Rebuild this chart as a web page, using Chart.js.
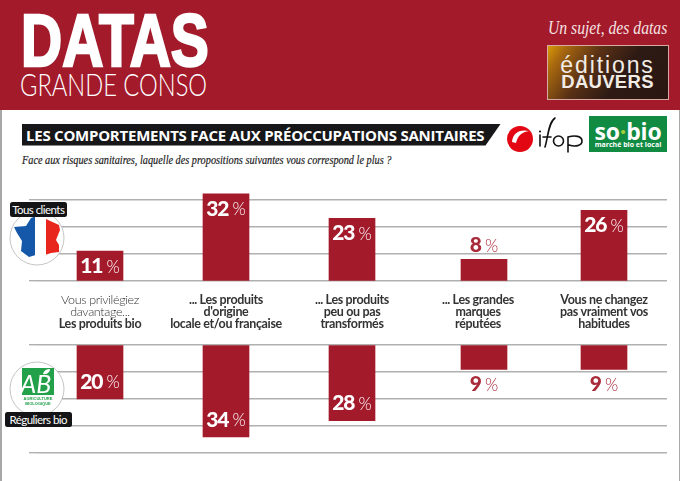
<!DOCTYPE html>
<html lang="fr">
<head>
<meta charset="utf-8">
<title>Datas grande conso</title>
<script src="https://cdn.jsdelivr.net/npm/chart.js@4"></script>
<style>
  html, body { margin: 0; padding: 0; background: #fff; }
  #page { position: relative; width: 680px; height: 481px; overflow: hidden; background: #fff; font-family: Lato, sans-serif; }
  #page > * { position: absolute; }
  canvas { display: block; }
  #edgeL { left: 0; top: 110px; width: 1.5px; height: 371px; background: #a8a8a8; }
  #edgeR { left: 679px; top: 110px; width: 1px; height: 371px; background: #a8a8a8; }
  #head { left: 0; top: 0; width: 680px; height: 110px; background: #a31a2b; }
  #datas { left: 20.5px; top: -2px; font: bold 75px/84px "Liberation Sans"; color: #fff; -webkit-text-stroke: 2.6px #fff; text-shadow: 1px 1px 1px #5d0d18; transform: scaleX(0.76); transform-origin: 0 0; white-space: nowrap; }
  #conso { left: 20px; top: 65px; font: 300 32px/38px Lato; color: #fff; white-space: nowrap; transform: scaleX(0.74); transform-origin: 0 0; }
  #slogan { left: 548px; top: 16px; font: italic 19px/24px "Liberation Serif"; color: #f6e3e3; white-space: nowrap; transform: scaleX(0.825); transform-origin: 0 0; }
  #dauvers { left: 546.5px; top: 45px; width: 120px; height: 53px; border: 1px solid #d9a9a4; background: linear-gradient(125deg, #d89a08 0%, #a8680f 12%, #5a3115 35%, #2e1a14 60%, #2a1712 100%); color: #f1ece6; text-align: center; }
  #dauvers .a { position: absolute; left: 0; width: 100%; top: 9px; font: 23px/20px "Liberation Sans"; letter-spacing: 1.9px; }
  #dauvers .b { position: absolute; left: 0; width: 100%; top: 26px; font: bold 18.5px/20px "Liberation Sans"; letter-spacing: 0.3px; }
  #band { left: 21.5px; top: 124px; width: 479px; height: 21.5px; background: #17171a; clip-path: polygon(0 0, 100% 0, 464px 100%, 0 100%); }
  #title { left: 26px; top: 124px; font: bold 15px/22px "Open Sans"; color: #fff; white-space: nowrap; letter-spacing: -0.24px; }
  #sub { left: 21.5px; top: 152px; font: italic 12.3px/16px "Liberation Serif"; color: #222; white-space: nowrap; -webkit-text-stroke: 0.2px #222; transform: scaleX(0.835); transform-origin: 0 0; }
  #sobio { left: 589px; top: 116px; width: 78px; height: 36px; background: #118a42; color: #fff; text-align: center; }
  #sobio .a { position: absolute; left: 0; width: 100%; top: 3px; font: bold 23px/24px "Open Sans"; letter-spacing: -0.2px; }
  #sobio .a span { color: #a7cf3a; }
  #sobio .b { position: absolute; left: 0; width: 100%; top: 24px; font: bold 7px/9px "Open Sans"; }
  .tag { background: #141416; color: #fff; border-radius: 2.5px; font: 11.5px/15px Lato; text-align: center; letter-spacing: -0.55px; z-index: 5; white-space: nowrap; }
  #tagAll { left: 10px; top: 201.5px; width: 56.5px; height: 15px; }
  #tagBio { left: 4.5px; top: 411.5px; width: 67.5px; height: 15.5px; }
  .icon { z-index: 4; }
  #chartTop { left: 29px; top: 183px; }
  #chartBio { left: 29px; top: 342px; }
</style>
</head>
<body>
<div id="page">
  <div id="edgeL"></div><div id="edgeR"></div>
  <div id="head"></div>
  <div id="datas">DATAS</div>
  <div id="conso">GRANDE CONSO</div>
  <div id="slogan">Un sujet, des datas</div>
  <div id="dauvers"><div class="a">éditions</div><div class="b">DAUVERS</div></div>
  <div id="band"></div>
  <div id="title">LES COMPORTEMENTS FACE AUX PRÉOCCUPATIONS SANITAIRES</div>
  <div id="sub">Face aux risques sanitaires, laquelle des propositions suivantes vous correspond le plus ?</div>

  <svg style="left:505px;top:114px" width="82" height="42" viewBox="0 0 82 42">
    <circle cx="15" cy="25" r="13" fill="#e30613"/>
    <path d="M7 28 C8 19 14 15 24 17 C17 18 13 21 11 29 Z" fill="#fff"/>
    <g fill="none" stroke="#111" stroke-width="1.6" stroke-linecap="round">
      <path d="M35 21 V32"/>
      <path d="M40 33 C43 24 43 9 50 4"/>
      <path d="M38 23 H46"/>
      <circle cx="53.5" cy="27" r="5"/>
      <path d="M63 38 V23 C70 21 77 22 77 27 C77 32 70 33 64 31"/>
    </g>
    <circle cx="35" cy="17.5" r="1.1" fill="#111"/>
  </svg>
  <div id="sobio"><div class="a">so<span>·</span>bio</div><div class="b">marché bio et local</div></div>

  <div id="chartTop"><canvas id="cvTop" width="638" height="162" style="width:638px;height:162px"></canvas></div>
  <div id="chartBio"><canvas id="cvBio" width="638" height="114" style="width:638px;height:114px"></canvas></div>

  <svg class="icon" style="left:9px;top:210px" width="56" height="56" viewBox="0 0 56 56">
    <defs>
      <clipPath id="fr"><path d="M22 8 L30 5 L37 9 L50 15 L51 20 L47 30 L50 35 L50 42 L42 43 L33 46 L30 44 L20 47 L12 41 L13 31 L8 23 L5 17 L17 16 Z"/></clipPath>
    </defs>
    <circle cx="28" cy="28" r="27" fill="#fff" stroke="#b5b5b5" stroke-width="0.8"/>
    <g clip-path="url(#fr)">
      <rect x="0" y="0" width="26" height="56" fill="#1557a8"/>
      <rect x="26" y="0" width="11" height="56" fill="#fff"/>
      <rect x="37" y="0" width="19" height="56" fill="#e8261e"/>
    </g>
  </svg>
  <div class="tag" id="tagAll">Tous clients</div>

  <svg class="icon" style="left:9px;top:361px" width="56" height="56" viewBox="0 0 56 56">
    <circle cx="28" cy="28" r="27" fill="#fff" stroke="#b5b5b5" stroke-width="0.8"/>
    <rect x="13" y="7" width="32" height="27" fill="#22a04a"/>
    <text x="27" y="32" text-anchor="middle" font-family="Lato" font-style="italic" font-size="25" fill="#fff">AB</text>
    <path d="M34 13 C35 9 38 8 41 8 C41 11 38 14 34 13 Z" fill="#fff"/>
    <text x="29" y="38.5" text-anchor="middle" font-family="Liberation Sans" font-weight="bold" font-size="4" fill="#22a04a">AGRICULTURE</text>
    <text x="29" y="43.5" text-anchor="middle" font-family="Liberation Sans" font-weight="bold" font-size="4" fill="#22a04a">BIOLOGIQUE</text>
  </svg>
  <div class="tag" id="tagBio">Réguliers bio</div>
</div>

<script>
const categories = [
  ["Vous privilégiez", "davantage...", "Les produits bio"],
  ["... Les produits", "d'origine", "locale et/ou française"],
  ["... Les produits", "peu ou pas", "transformés"],
  ["... Les grandes", "marques", "réputées"],
  ["Vous ne changez", "pas vraiment vos", "habitudes"]
];
// lines drawn in the light weight, the rest are bold
const lightLines = [2, 0, 0, 0, 0];
const tousClients = [11, 32, 23, 8, 26];
const reguliersBio = [20, 34, 28, 9, 9];

const red = "#a31a2b";
const gridGrey = "#b0b0b0";
// the 4th bar sits a little right of its label in the original
const barShift = [0, 0, 0, 6, 0];

const shiftBars = {
  id: "shiftBars",
  afterDatasetsUpdate(chart) {
    chart.getDatasetMeta(0).data.forEach((bar, i) => { bar.x += barShift[i]; });
  }
};

const valueLabels = {
  id: "valueLabels",
  afterDatasetsDraw(chart) {
    const ctx = chart.ctx;
    const down = chart.scales.y.options.reverse;
    const values = chart.data.datasets[0].data;
    chart.getDatasetMeta(0).data.forEach((bar, i) => {
      const inside = values[i] >= 10;
      let y;
      if (down) y = inside ? bar.y - 17 : bar.y + 15;
      else y = inside ? bar.y + 15 : bar.y - 14;
      const num = String(values[i]);
      ctx.save();
      ctx.textBaseline = "middle";
      ctx.textAlign = "left";
      ctx.letterSpacing = "-1px";
      ctx.font = "900 21px Lato";
      const w1 = ctx.measureText(num).width;
      ctx.letterSpacing = "0px";
      ctx.font = "300 17px Lato";
      const w2 = ctx.measureText("%").width;
      const x0 = bar.x - (w1 + 4 + w2) / 2;
      ctx.fillStyle = inside ? "#fff" : "#a92b3a";
      ctx.letterSpacing = "-1px";
      ctx.font = "900 21px Lato";
      ctx.fillText(num, x0, y);
      ctx.letterSpacing = "0px";
      ctx.font = "300 17px Lato";
      ctx.fillText("%", x0 + w1 + 4, y + 1);
      ctx.restore();
    });
  }
};

// multi line labels under the top bars, mixed weights so not plain ticks
const categoryLabels = {
  id: "categoryLabels",
  afterDraw(chart) {
    const ctx = chart.ctx;
    const xs = chart.scales.x;
    const base = chart.scales.y.bottom;
    categories.forEach((lines, i) => {
      const x = xs.getPixelForValue(i);
      lines.forEach((line, k) => {
        const light = k < lightLines[i];
        ctx.save();
        ctx.textAlign = "center";
        ctx.textBaseline = "middle";
        ctx.letterSpacing = "-0.35px";
        ctx.font = (light ? "300" : "bold") + " 12.5px Lato";
        ctx.fillStyle = "#333";
        ctx.fillText(line, x, base + 18.5 + k * 12.4);
        ctx.restore();
      });
    });
  }
};

function makeChart(id, values, opts) {
  // only whole tens get a line, not the top of the axis
  const lineColor = c => (c.tick && c.tick.value % 10 === 0 ? gridGrey : "rgba(0,0,0,0)");
  return new Chart(document.getElementById(id), {
    type: "bar",
    data: {
      labels: categories.map(c => c.join(" ")),
      datasets: [{ data: values, backgroundColor: red, borderWidth: 0, barThickness: 46 }]
    },
    options: {
      responsive: false,
      animation: false,
      events: [],
      layout: { padding: opts.padding },
      plugins: { legend: { display: false }, tooltip: { enabled: false } },
      scales: {
        x: { display: false },
        y: {
          min: 0,
          max: opts.max,
          reverse: opts.reverse,
          ticks: { display: false, stepSize: 10 },
          border: { display: false },
          grid: { color: lineColor, tickColor: lineColor, lineWidth: 1.4, drawTicks: true, tickLength: 8 }
        }
      }
    },
    plugins: opts.plugins
  });
}

makeChart("cvTop", tousClients, {
  max: 36, reverse: false,
  padding: { top: 0, bottom: 64 },
  plugins: [shiftBars, valueLabels, categoryLabels]
});
makeChart("cvBio", reguliersBio, {
  max: 40, reverse: true,
  padding: { top: 3, bottom: 3 },
  plugins: [shiftBars, valueLabels]
});
</script>
</body>
</html>
